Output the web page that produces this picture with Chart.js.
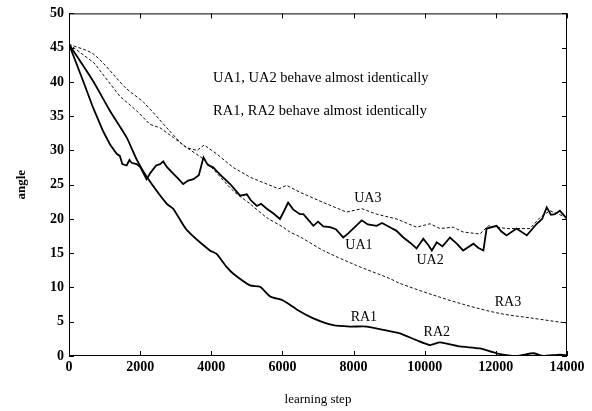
<!DOCTYPE html>
<html>
<head>
<meta charset="utf-8">
<script src="https://cdn.jsdelivr.net/npm/chart.js"></script>
<style>
  html, body { margin: 0; padding: 0; background: #fff; }
  canvas { display: block; }
</style>
</head>
<body>
<canvas id="grafico" width="592" height="411"></canvas>
<script>
// values (learning step -> angle)
var ra1Steps  = [0, 680, 1150, 1620, 1900, 2180, 2750, 2930, 3310, 3960, 4150, 4430, 4620, 5090, 5370, 5650, 6020, 6400, 6870, 7430, 7900, 8370, 8840, 9300, 9770, 10150, 10430, 10990, 11550, 12020, 12580, 13050, 13330, 13800, 14000];
var ra1Angles = [45.5, 40.1, 35.8, 31.9, 28.7, 26.2, 22.2, 21.5, 18.4, 15.4, 14.9, 13.0, 12.0, 10.3, 10.1, 8.7, 8.1, 6.8, 5.5, 4.5, 4.3, 4.3, 3.8, 3.3, 2.3, 1.6, 2.0, 1.4, 1.1, 0.4, 0.0, 0.4, 0.0, 0.2, 0.1];

var ra3Steps  = [0, 700, 1600, 2100, 2750, 3210, 3780, 4620, 5090, 5560, 6020, 6210, 6490, 7150, 8090, 9020, 9300, 10240, 11180, 12120, 13050, 14000];
var ra3Angles = [45.5, 44.0, 39.1, 37.0, 33.3, 30.8, 28.7, 24.1, 22.2, 20.2, 18.8, 18.1, 17.4, 15.4, 13.2, 11.3, 10.6, 8.9, 7.4, 6.2, 5.5, 4.8];

var ua1Steps  = [0, 400, 680, 960, 1150, 1340, 1430, 1500, 1620, 1700, 1760, 1900, 2000, 2180, 2300, 2450, 2560, 2650, 2750, 2930, 3050, 3210, 3350, 3500, 3650, 3780, 3900, 4060, 4150, 4300, 4530, 4810, 5000, 5100, 5280, 5400, 5560, 5750, 5930, 6050, 6160, 6300, 6490, 6590, 6870, 7000, 7150, 7340, 7500, 7710, 7850, 7990, 8230, 8400, 8650, 8800, 9020, 9200, 9400, 9600, 9770, 9960, 10100, 10200, 10340, 10500, 10710, 10900, 11080, 11370, 11500, 11650, 11740, 12020, 12150, 12300, 12580, 12870, 13150, 13300, 13430, 13550, 13660, 13800, 14000];
var ua1Angles = [45.5, 40.1, 36.2, 32.8, 30.9, 29.5, 29.2, 28.0, 27.8, 28.6, 28.2, 28.0, 27.6, 25.8, 26.8, 27.8, 28.0, 28.4, 27.6, 26.6, 26.0, 25.1, 25.6, 25.8, 26.4, 29.0, 27.9, 27.5, 27.0, 26.2, 25.1, 23.4, 23.6, 22.8, 21.9, 22.2, 21.5, 20.8, 20.0, 21.2, 22.4, 21.4, 20.7, 20.7, 19.0, 19.6, 18.9, 18.8, 18.5, 17.3, 17.9, 18.6, 19.8, 19.2, 19.0, 19.4, 18.8, 18.3, 17.3, 16.5, 15.7, 17.1, 16.2, 15.4, 16.6, 16.0, 17.3, 16.4, 15.4, 16.4, 15.8, 15.4, 18.6, 19.0, 18.2, 17.6, 18.6, 17.6, 19.3, 20.0, 21.7, 20.6, 20.7, 21.2, 20.0];

var ua3Steps  = [0, 700, 1430, 1900, 2280, 2560, 2930, 3310, 3600, 3800, 4150, 4620, 5090, 5560, 5900, 6120, 6490, 7150, 7800, 8230, 8650, 9210, 9770, 10150, 10430, 10800, 11080, 11550, 11790, 12300, 12960, 13240, 13520, 14000];
var ua3Angles = [45.5, 42.8, 37.9, 35.8, 33.8, 33.3, 31.9, 30.4, 30.0, 30.8, 29.5, 27.5, 26.1, 25.1, 24.4, 24.9, 23.9, 22.4, 21.0, 21.5, 20.7, 20.0, 18.8, 19.3, 18.6, 18.8, 18.1, 17.8, 19.0, 18.6, 18.6, 20.2, 21.2, 20.2];

var xTicks = [0, 2000, 4000, 6000, 8000, 10000, 12000, 14000];
var yTicks = [0, 5, 10, 15, 20, 25, 30, 35, 40, 45, 50];

function puntos(steps, angles) {
    return steps.map(function (s, i) { return { x: s, y: angles[i] }; });
}

var serif = "'Liberation Serif', 'DejaVu Serif', serif";

// text written inside the plot, placed in data units
var textos = [
    { t: 'UA1, UA2 behave almost identically', x: 4050, y: 40.5, align: 'left' },
    { t: 'RA1, RA2 behave almost identically', x: 4050, y: 35.7, align: 'left' },
    { t: 'UA3', x: 8400, y: 23.0, align: 'center' },
    { t: 'UA1', x: 8150, y: 16.1, align: 'center' },
    { t: 'UA2', x: 10150, y: 14.0, align: 'center' },
    { t: 'RA3', x: 12340, y: 7.85, align: 'center' },
    { t: 'RA1', x: 8290, y: 5.7, align: 'center' },
    { t: 'RA2', x: 10340, y: 3.5, align: 'center' }
];

var marco = {
    id: 'marco',
    afterDraw: function (chart) {
        var ctx = chart.ctx;
        var a = chart.chartArea;
        var sx = chart.scales.x, sy = chart.scales.y;
        ctx.save();
        ctx.strokeStyle = '#000';
        ctx.lineWidth = 1;
        ctx.strokeRect(a.left + 0.5, a.top + 0.5, a.right - a.left - 1, a.bottom - a.top - 1);
        ctx.beginPath();
        xTicks.forEach(function (v) {
            var px = Math.round(sx.getPixelForValue(v)) + 0.5;
            ctx.moveTo(px, a.bottom); ctx.lineTo(px, a.bottom - 5);
            ctx.moveTo(px, a.top); ctx.lineTo(px, a.top + 5);
        });
        yTicks.forEach(function (v) {
            var py = Math.round(sy.getPixelForValue(v)) + 0.5;
            ctx.moveTo(a.left, py); ctx.lineTo(a.left + 5, py);
            ctx.moveTo(a.right, py); ctx.lineTo(a.right - 5, py);
        });
        ctx.stroke();
        ctx.fillStyle = '#000';
        ctx.textBaseline = 'middle';
        textos.forEach(function (e) {
            ctx.font = (e.align === 'left' ? '14.5px ' : '14px ') + serif;
            ctx.textAlign = e.align;
            ctx.fillText(e.t, sx.getPixelForValue(e.x), sy.getPixelForValue(e.y));
        });
        ctx.restore();
    }
};

var ctx = document.getElementById('grafico').getContext('2d');
var myChart = new Chart(ctx, {
    type: 'line',
    data: {
        datasets: [
            {
                label: 'UA3',
                data: puntos(ua3Steps, ua3Angles),
                borderColor: '#111',
                borderWidth: 1,
                borderDash: [3, 2],
                pointRadius: 0,
                tension: 0
            },
            {
                label: 'RA3',
                data: puntos(ra3Steps, ra3Angles),
                borderColor: '#111',
                borderWidth: 1,
                borderDash: [3, 2],
                pointRadius: 0,
                tension: 0.3
            },
            {
                label: 'UA1',
                data: puntos(ua1Steps, ua1Angles),
                borderColor: '#000',
                borderWidth: 1.8,
                pointRadius: 0,
                tension: 0
            },
            {
                label: 'RA1',
                data: puntos(ra1Steps, ra1Angles),
                borderColor: '#000',
                borderWidth: 1.8,
                pointRadius: 0,
                tension: 0.2
            }
        ]
    },
    options: {
        responsive: false,
        animation: false,
        layout: { padding: { top: 12, right: 25, left: 0, bottom: 0 } },
        plugins: {
            legend: { display: false },
            tooltip: { enabled: false }
        },
        scales: {
            x: {
                type: 'linear',
                min: 0,
                max: 14000,
                afterBuildTicks: function (s) { s.ticks = xTicks.map(function (v) { return { value: v }; }); },
                afterFit: function (s) { s.height = 55; },
                grid: { display: false, drawTicks: false },
                border: { display: false },
                ticks: {
                    color: '#000',
                    padding: 3,
                    maxRotation: 0,
                    callback: function (v) { return String(v); },
                    font: { family: serif, size: 14, weight: 'bold' }
                },
                title: {
                    display: true,
                    text: 'learning step',
                    color: '#000',
                    padding: { top: 4 },
                    font: { family: serif, size: 13 }
                }
            },
            y: {
                type: 'linear',
                min: 0,
                max: 50,
                afterBuildTicks: function (s) { s.ticks = yTicks.map(function (v) { return { value: v }; }); },
                afterFit: function (s) { s.width = 69; },
                grid: { display: false, drawTicks: false },
                border: { display: false },
                ticks: {
                    color: '#000',
                    padding: 5,
                    callback: function (v) { return String(v); },
                    font: { family: serif, size: 14, weight: 'bold' }
                },
                title: {
                    display: true,
                    text: 'angle',
                    color: '#000',
                    padding: { top: 14 },
                    font: { family: serif, size: 13, weight: 'bold' }
                }
            }
        }
    },
    plugins: [marco]
});
</script>
</body>
</html>
